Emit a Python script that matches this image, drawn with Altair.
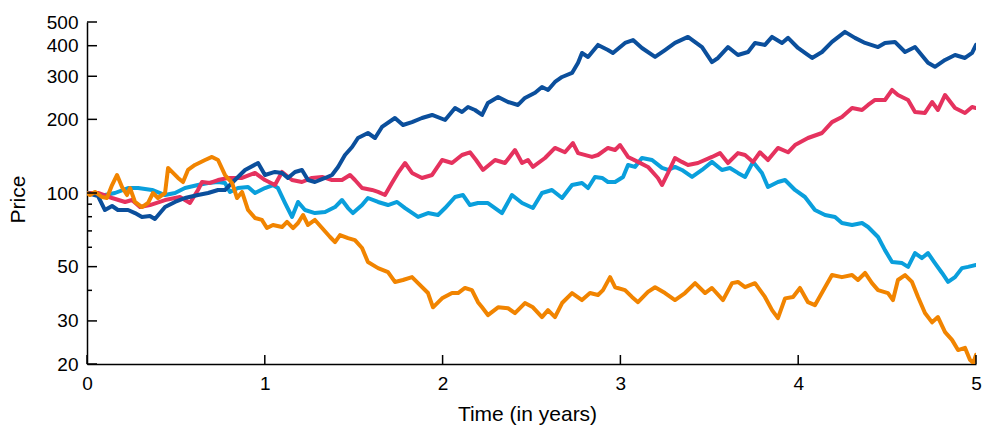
import altair as alt
import pandas as pd

# ---------------- data ----------------
t_navy = [0, 0.062, 0.101, 0.141, 0.174, 0.231, 0.270, 0.309, 0.354, 0.382,
          0.439, 0.495, 0.551, 0.624, 0.681, 0.737, 0.776, 0.832, 0.889, 0.962,
          1.001, 1.057, 1.097, 1.130, 1.170, 1.209, 1.243, 1.282, 1.339, 1.378,
          1.412, 1.451, 1.491, 1.524, 1.580, 1.620, 1.659, 1.732, 1.777, 1.828,
          1.884, 1.941, 2.014, 2.070, 2.109, 2.143, 2.182, 2.222, 2.255, 2.312,
          2.368, 2.424, 2.463, 2.520, 2.559, 2.593, 2.632, 2.672, 2.728, 2.762,
          2.784, 2.818, 2.874, 2.930, 2.958, 3.026, 3.071, 3.121, 3.195, 3.251,
          3.307, 3.380, 3.459, 3.515, 3.549, 3.605, 3.661, 3.718, 3.757, 3.813,
          3.853, 3.909, 3.943, 3.999, 4.038, 4.078, 4.134, 4.190, 4.263, 4.319,
          4.376, 4.449, 4.488, 4.544, 4.601, 4.657, 4.730, 4.769, 4.826, 4.882,
          4.938, 4.978, 5.0]
p_navy = [100, 97.2, 85.2, 88.5, 85.2, 85.2, 82.8, 79.8, 80.5, 78.3,
          87.6, 91.9, 95.4, 98.1, 100, 102.9, 102.9, 113.0, 124.2, 132.6,
          118.5, 121.9, 120.8, 115.2, 121.9, 124.2, 113.0, 110.9, 115.2, 118.5,
          127.8, 143.0, 154.2, 167.8, 175.9, 167.8, 186.2, 202.6, 189.7, 194.9,
          202.6, 208.4, 198.8, 222.5, 214.4, 224.6, 218.4, 208.4, 233.4, 247.0,
          235.5, 229.0, 244.7, 256.9, 271.2, 263.7, 284.3, 298, 309.5, 340.8,
          373.6, 359.8, 403, 384, 373.6, 410.6, 422, 391.5, 359.8, 384,
          410.6, 434.5, 395, 343, 356.4, 395, 366.6, 377, 410.6, 403,
          434.5, 410.6, 430.5, 391.5, 373.6, 356.4, 377, 414.5, 455.5, 430.5,
          410.6, 395, 410.6, 414.5, 377, 395, 340.8, 328, 349.8, 366.6,
          356.4, 373.6, 403]

t_pink = [0, 0.062, 0.141, 0.214, 0.253, 0.298, 0.354, 0.439, 0.523, 0.579,
          0.624, 0.647, 0.692, 0.737, 0.793, 0.872, 0.945, 1.001, 1.057, 1.097,
          1.153, 1.209, 1.265, 1.322, 1.378, 1.434, 1.479, 1.507, 1.547, 1.603,
          1.637, 1.676, 1.715, 1.749, 1.789, 1.828, 1.884, 1.941, 1.997, 2.053,
          2.109, 2.154, 2.188, 2.227, 2.295, 2.351, 2.407, 2.447, 2.480, 2.508,
          2.576, 2.632, 2.688, 2.733, 2.762, 2.840, 2.874, 2.930, 2.970, 2.998,
          3.043, 3.099, 3.155, 3.211, 3.234, 3.268, 3.307, 3.346, 3.380, 3.436,
          3.515, 3.560, 3.605, 3.661, 3.701, 3.746, 3.785, 3.830, 3.886, 3.943,
          3.982, 4.055, 4.134, 4.190, 4.246, 4.303, 4.359, 4.393, 4.432, 4.488,
          4.528, 4.561, 4.618, 4.657, 4.713, 4.753, 4.786, 4.826, 4.882, 4.938,
          4.978, 5.0]
p_pink = [100, 100, 95.4, 91.9, 93.6, 87.6, 89.3, 93.6, 96.3, 91.0,
          102.9, 110.9, 109.9, 113.0, 115.2, 115.2, 120.8, 113.0, 107.8, 121.9,
          113.0, 110.9, 115.2, 116.3, 113.0, 113.0, 118.5, 113.0, 104.8, 102.9,
          101.0, 98.1, 109.9, 120.8, 132.6, 120.8, 115.2, 118.5, 136.4, 132.6,
          143.0, 146.7, 136.4, 124.2, 136.4, 132.6, 149.9, 132.6, 136.4, 127.8,
          139.0, 152.8, 146.7, 160.0, 145.6, 140.4, 143.0, 152.8, 149.9, 157.1,
          140.4, 134.0, 127.8, 115.2, 107.8, 120.8, 139.0, 134.0, 130.2, 132.6,
          140.4, 145.6, 132.6, 145.6, 143.0, 134.0, 146.7, 136.4, 152.8, 146.7,
          157.1, 167.8, 175.9, 194.9, 204.5, 222.5, 218.4, 229.0, 240.0, 240.0,
          263.7, 251.6, 240.0, 214.4, 212.4, 235.5, 218.4, 251.6, 222.5, 212.4,
          224.6, 222.5]

t_sky = [0, 0.062, 0.101, 0.157, 0.231, 0.287, 0.366, 0.439, 0.495, 0.551,
         0.624, 0.681, 0.737, 0.776, 0.804, 0.849, 0.906, 0.945, 1.001, 1.046,
         1.074, 1.114, 1.153, 1.187, 1.226, 1.282, 1.339, 1.395, 1.434, 1.468,
         1.496, 1.547, 1.580, 1.637, 1.693, 1.744, 1.789, 1.862, 1.918, 1.974,
         2.014, 2.070, 2.115, 2.154, 2.199, 2.255, 2.334, 2.390, 2.447, 2.508,
         2.559, 2.615, 2.672, 2.728, 2.784, 2.818, 2.857, 2.897, 2.930, 2.970,
         3.015, 3.043, 3.082, 3.121, 3.178, 3.234, 3.268, 3.307, 3.346, 3.403,
         3.459, 3.515, 3.571, 3.616, 3.661, 3.701, 3.746, 3.796, 3.830, 3.886,
         3.926, 3.982, 4.038, 4.094, 4.151, 4.207, 4.246, 4.303, 4.359, 4.393,
         4.449, 4.488, 4.528, 4.584, 4.618, 4.657, 4.696, 4.730, 4.769, 4.809,
         4.843, 4.882, 4.921, 4.955, 5.0]
p_sky = [100, 98.1, 98.1, 100, 104.8, 104.8, 102.9, 98.1, 100, 104.8,
         107.8, 109.9, 110.9, 109.9, 101.0, 104.8, 105.8, 100, 104.8, 107.8,
         104.8, 91.0, 79.8, 91.9, 85.2, 82.8, 83.6, 87.6, 93.6, 86.8,
         82.8, 89.3, 95.4, 91.9, 89.3, 91.9, 86.8, 79.8, 82.8, 81.3,
         86.8, 96.3, 98.1, 89.3, 91.0, 91.0, 82.8, 98.1, 91.0, 86.8,
         100, 102.9, 95.4, 107.8, 109.9, 104.8, 116.3, 115.2, 110.9, 110.9,
         116.3, 130.2, 127.8, 139.0, 136.4, 126.6, 124.2, 127.8, 124.2, 116.3,
         124.2, 134.0, 124.2, 126.6, 120.8, 116.3, 134.0, 120.8, 105.8, 110.9,
         113.0, 102.9, 96.3, 85.2, 81.3, 79.8, 75.4, 74.0, 75.4, 72.6,
         66.1, 58.4, 52.2, 51.7, 49.9, 56.8, 54.2, 56.8, 51.7, 47.1,
         43.3, 45.3, 49.3, 49.9, 50.8]

t_orange = [0, 0.017, 0.045, 0.084, 0.112, 0.141, 0.169, 0.197, 0.225, 0.242,
            0.270, 0.309, 0.343, 0.371, 0.399, 0.439, 0.456, 0.484, 0.512, 0.540,
            0.568, 0.607, 0.664, 0.703, 0.737, 0.776, 0.816, 0.844, 0.872, 0.906,
            0.945, 0.984, 1.012, 1.046, 1.097, 1.125, 1.159, 1.187, 1.215, 1.243,
            1.282, 1.322, 1.367, 1.395, 1.423, 1.468, 1.507, 1.547, 1.580, 1.637,
            1.693, 1.732, 1.777, 1.828, 1.862, 1.918, 1.946, 1.997, 2.053, 2.087,
            2.126, 2.165, 2.199, 2.222, 2.255, 2.312, 2.368, 2.407, 2.463, 2.508,
            2.559, 2.593, 2.632, 2.672, 2.728, 2.784, 2.829, 2.874, 2.902, 2.942,
            2.970, 3.026, 3.065, 3.099, 3.155, 3.195, 3.251, 3.307, 3.363, 3.420,
            3.476, 3.515, 3.577, 3.628, 3.661, 3.701, 3.757, 3.813, 3.853, 3.886,
            3.926, 3.971, 4.010, 4.055, 4.094, 4.151, 4.190, 4.246, 4.303, 4.336,
            4.376, 4.415, 4.449, 4.505, 4.533, 4.561, 4.601, 4.640, 4.674, 4.713,
            4.753, 4.786, 4.826, 4.865, 4.899, 4.938, 4.966, 4.985, 5.0]
p_orange = [100, 98.1, 101.0, 96.3, 95.4, 107.8, 118.5, 105.8, 98.1, 104.8,
            91.9, 87.6, 91.0, 100, 95.4, 100, 126.6, 120.8, 115.2, 110.9,
            124.2, 130.2, 136.4, 140.4, 136.4, 118.5, 109.9, 95.4, 101.0, 85.2,
            79.0, 77.6, 71.9, 74.0, 72.6, 76.2, 71.9, 75.4, 81.3, 74.0,
            77.6, 71.9, 66.1, 63.0, 67.3, 65.4, 64.2, 59.6, 52.2, 49.3,
            47.5, 43.3, 44.1, 45.3, 42.8, 39.0, 34.1, 37.1, 39.0, 39.0,
            40.9, 40.1, 35.8, 34.1, 31.7, 34.1, 33.8, 32.3, 35.5, 34.1,
            31.1, 33.2, 31.1, 35.5, 39.0, 36.5, 39.0, 38.3, 40.1, 45.3,
            41.2, 40.1, 37.6, 35.8, 39.4, 41.2, 39.0, 36.5, 39.0, 42.8,
            39.0, 40.9, 36.5, 42.8, 43.3, 41.2, 42.8, 37.6, 33.2, 30.8,
            37.1, 37.6, 40.9, 35.8, 34.8, 41.2, 46.2, 45.3, 46.2, 44.1,
            47.1, 42.8, 40.1, 39.0, 36.5, 44.1, 46.2, 43.3, 37.6, 32.3,
            29.6, 31.1, 27.0, 25.1, 22.8, 23.3, 20.8, 20.2, 21.8]

x_ticks = [0, 1, 2, 3, 4, 5]
y_major = [20, 30, 50, 100, 200, 300, 400, 500]
y_minor = [40, 60, 70, 80, 90]

# drawing order: first drawn is at the bottom
series = [
    ("sky", t_sky, p_sky, "#0a9fdc"),
    ("pink", t_pink, p_pink, "#e5325e"),
    ("navy", t_navy, p_navy, "#0b4f9c"),
    ("orange", t_orange, p_orange, "#f18400"),
]

rows = []
for name, ts, ps, _ in series:
    for t, p in zip(ts, ps):
        rows.append({"series": name, "t": t, "price": p})
df = pd.DataFrame(rows)

# ---------------- chart ----------------
W, H = 889, 342
FONT = "Liberation Sans"

xscale = alt.Scale(domain=[0, 5], nice=False, zero=False)
yscale = alt.Scale(type="log", domain=[20, 500], nice=False)

xaxis = alt.Axis(values=x_ticks, format="d", ticks=False, grid=False,
                 labelPadding=10, labelFontSize=19, labelFont=FONT,
                 labelColor="black", labelFlush=False, labelOverlap=False,
                 domainColor="black", domainWidth=1.5,
                 title="Time (in years)", titleFont=FONT, titleFontSize=21,
                 titleFontWeight="normal", titleColor="black",
                 titleX=440, titleY=50, titleBaseline="middle")
yaxis = alt.Axis(values=y_major, format="d", ticks=False, grid=False,
                 labelPadding=9, labelFontSize=19, labelFont=FONT,
                 labelColor="black", labelOverlap=False,
                 domainColor="black", domainWidth=1.5,
                 title="Price", titleFont=FONT, titleFontSize=21,
                 titleFontWeight="normal", titleColor="black",
                 titleAngle=270, titleX=-69, titleY=177,
                 titleBaseline="middle", titleAlign="center")

X = alt.X("t:Q", scale=xscale, axis=xaxis)
Y = alt.Y("price:Q", scale=yscale, axis=yaxis)

layers = []
for name, _, _, col in series:
    layers.append(
        alt.Chart(df).transform_filter(alt.datum.series == name)
        .mark_line(color=col, strokeWidth=4, strokeJoin="round",
                   strokeCap="round", clip=True)
        .encode(x=X, y=Y)
    )

xt = alt.Chart(pd.DataFrame({"t": x_ticks})).mark_rule(
    color="black", strokeWidth=1.5).encode(
    x=X, y=alt.value(H), y2=alt.value(H - 9))
ymaj = alt.Chart(pd.DataFrame({"price": y_major})).mark_rule(
    color="black", strokeWidth=1.5).encode(
    y=Y, x=alt.value(0), x2=alt.value(10))
ymin = alt.Chart(pd.DataFrame({"price": y_minor})).mark_rule(
    color="black", strokeWidth=1.5).encode(
    y=Y, x=alt.value(0), x2=alt.value(5))

chart = alt.layer(*layers, xt, ymaj, ymin).properties(
    width=W, height=H,
    padding={"left": 87, "top": 22, "right": 6, "bottom": 63},
    autosize=alt.AutoSizeParams(type="none"),
    background="white",
).configure_view(stroke=None)

chart.save("out.html", embed_options={"renderer": "svg", "actions": False})
